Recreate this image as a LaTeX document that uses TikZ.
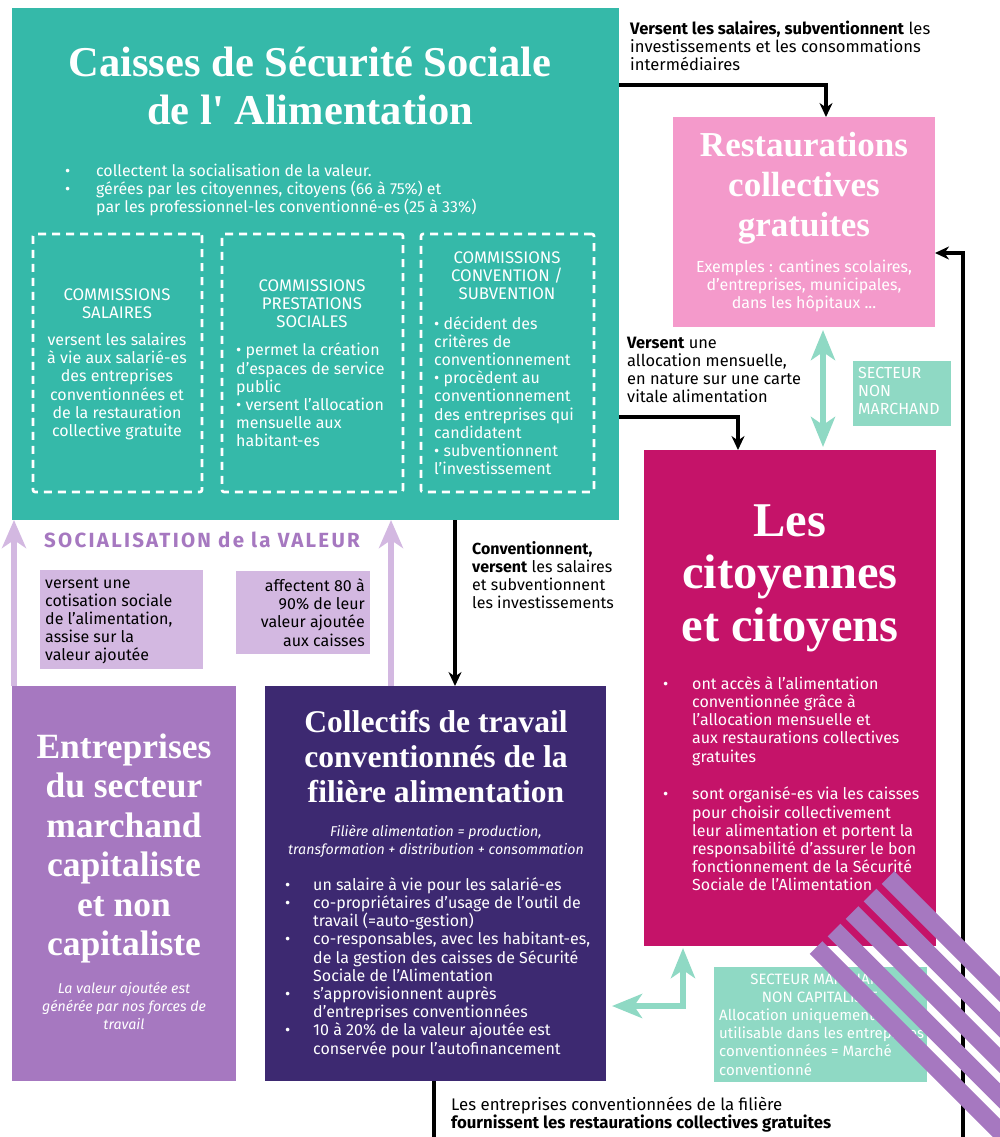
\documentclass[tikz,border=0pt]{standalone}
\usepackage{fontspec}
\setmainfont{Fira Sans}
\newfontfamily\titlefont{Liberation Serif}
\usetikzlibrary{arrows.meta,calc}
\definecolor{cteal}{HTML}{35B9A9}
\definecolor{cpink}{HTML}{F49ACB}
\definecolor{cmag}{HTML}{C51369}
\definecolor{cmint}{HTML}{8FD9C4}
\definecolor{cpurple}{HTML}{A678C0}
\definecolor{clpurple}{HTML}{D3B8E1}
\definecolor{cdark}{HTML}{3D2971}
\newcommand\bul[1]{\makebox[#1pt][l]{•}}
\newcommand\ind[1]{\hspace*{#1pt}}
\begin{document}
\begin{tikzpicture}[x=1pt,y=-1pt,
  box/.style={anchor=north west, inner sep=0, outer sep=0},
  dbox/.style={anchor=north west, inner sep=0, outer sep=0, draw=white, line width=2.6pt, dash pattern=on 8pt off 6pt, rounded corners=2pt},
  ttl/.style={text=white, align=center, inner sep=0},
  body/.style={font=\fontsize{16}{18.2}\selectfont, inner sep=0},
  wbody/.style={body, text=white},
  ital/.style={text=white, inner sep=0, align=center, font=\itshape\fontsize{14.2}{18}\selectfont},
  blk/.style={line width=3.2pt, draw=black, -{Stealth[length=14pt,width=13pt]}},
  mintar/.style={line width=6pt, draw=cmint, {Stealth[length=30pt,width=24pt,inset=8pt]}-{Stealth[length=30pt,width=24pt,inset=8pt]}},
  lpar/.style={line width=6pt, draw=clpurple, -{Stealth[length=28pt,width=24pt,inset=8pt]}},
  stripe/.style={draw=cpurple, line width=18pt}
]
\useasboundingbox (0,0) rectangle (1000,1137);
\clip (0,0) rectangle (1000,1137);

% ---------- boxes ----------
\node[box, fill=cteal, minimum width=607pt, minimum height=512pt] (caisses) at (12,8) {};
\node[box, fill=cpink, minimum width=262pt, minimum height=210pt] (resto) at (673,117) {};
\node[box, fill=cmag, minimum width=292pt, minimum height=496pt] (citoyens) at (644,450) {};
\node[box, fill=cpurple, minimum width=224pt, minimum height=395pt] (entr) at (12,686) {};
\node[box, fill=cdark, minimum width=341pt, minimum height=395pt] (coll) at (265,686) {};
\node[box, fill=cmint, minimum width=98pt, minimum height=65pt] (snm) at (853,361) {};
\node[box, fill=cmint, minimum width=213pt, minimum height=115pt] (smnc) at (714,967) {};
\node[box, fill=clpurple, minimum width=163pt, minimum height=99pt] (cotis) at (40,570) {};
\node[box, fill=clpurple, minimum width=134pt, minimum height=83pt] (affect) at (236,571) {};

\node[dbox, minimum width=169pt, minimum height=258pt] (csal) at (33,234) {};
\node[dbox, minimum width=181pt, minimum height=258pt] (cprest) at (222,234) {};
\node[dbox, minimum width=173pt, minimum height=258pt] (cconv) at (421,234) {};

% ---------- texts: caisses ----------
\node[ttl, font=\titlefont\bfseries\fontsize{42.5}{48}\selectfont] (caissesT) at (310,86) {Caisses de Sécurité Sociale\\de l' Alimentation};
\node[wbody, anchor=west, align=left, font=\fontsize{15.9}{18.2}\selectfont] (caissesL) at (65,190) {\bul{31}collectent la socialisation de la valeur.\\\bul{31}gérées par les citoyennes, citoyens (66 à 75\%) et\\\ind{31}par les professionnel-les conventionné-es (25 à 33\%)};

\node[wbody, align=center, font=\fontsize{16.8}{18.2}\selectfont] (csalH) at (117,304) {COMMISSIONS\\SALAIRES};
\node[wbody, align=center] (csalB) at (117,386.5) {versent les salaires\\à vie aux salarié-es\\des entreprises\\conventionnées et\\de la restauration\\collective gratuite};

\node[wbody, align=center, font=\fontsize{16.8}{18.2}\selectfont] (cprestH) at (312,304) {COMMISSIONS\\PRESTATIONS\\SOCIALES};
\node[wbody, anchor=west, align=left] (cprestB) at (236,395) {• permet la création\\d’espaces de service\\public\\• versent l’allocation\\mensuelle aux\\habitant-es};

\node[wbody, align=center, font=\fontsize{16.8}{18.2}\selectfont] (cconvH) at (507,276) {COMMISSIONS\\CONVENTION /\\SUBVENTION};
\node[wbody, anchor=west, align=left] (cconvB) at (434,395.5) {• décident des\\critères de\\conventionnement\\• procèdent au\\conventionnement\\des entreprises qui\\candidatent\\• subventionnent\\l’investissement};

% ---------- texts: right column ----------
\node[body, anchor=west, align=left, font=\fontsize{16.6}{18.2}\selectfont] (lab1) at (630,46) {\textbf{Versent les salaires, subventionnent} les\\investissements et les consommations\\intermédiaires};
\node[ttl, font=\titlefont\bfseries\fontsize{35}{40}\selectfont] (restoT) at (804,188) {Restaurations\\collectives\\gratuites};
\node[wbody, align=center] (restoB) at (804,286) {Exemples : cantines scolaires,\\d’entreprises, municipales,\\dans les hôpitaux ...};
\node[wbody, anchor=west, align=left] (snmT) at (858,391) {SECTEUR\\NON\\MARCHAND};
\node[body, anchor=west, align=left, font=\fontsize{16.4}{18.2}\selectfont] (lab2) at (627,370) {\textbf{Versent} une\\allocation mensuelle,\\en nature sur une carte\\vitale alimentation};

\node[ttl, font=\titlefont\bfseries\fontsize{48.5}{52.5}\selectfont] (citT) at (790,578) {Les\\citoyennes\\et citoyens};
\node[wbody, anchor=west, align=left] (citB1) at (663,721) {\bul{29}ont accès à l’alimentation\\\ind{29}conventionnée grâce à\\\ind{29}l’allocation mensuelle et\\\ind{29}aux restaurations collectives\\\ind{29}gratuites};
\node[wbody, anchor=west, align=left] (citB2) at (663,839) {\bul{29}sont organisé-es via les caisses\\\ind{29}pour choisir collectivement\\\ind{29}leur alimentation et portent la\\\ind{29}responsabilité d’assurer le bon\\\ind{29}fonctionnement de la Sécurité\\\ind{29}Sociale de l’Alimentation};

\node[wbody, align=center, font=\fontsize{15}{18.2}\selectfont] (smncH) at (820,988) {SECTEUR MARCHAND\\NON CAPITALISTE};
\node[wbody, anchor=west, align=left, font=\fontsize{15}{18.2}\selectfont] (smncB) at (719,1042) {Allocation uniquement\\utilisable dans les entreprises\\conventionnées = Marché\\conventionné};

% ---------- texts: left / middle ----------
\node[inner sep=0, anchor=west, text=cpurple, font=\bfseries\fontsize{20.5}{22}\selectfont] (socT) at (44,540) {\addfontfeature{LetterSpace=11}SOCIALISATION de la VALEUR};
\node[body, anchor=west, align=left] (cotisT) at (45,621) {versent une\\cotisation sociale\\de l’alimentation,\\assise sur la\\valeur ajoutée};
\node[body, anchor=east, align=right] (affectT) at (365,612.5) {affectent 80 à\\90\% de leur\\valeur ajoutée\\aux caisses};
\node[body, anchor=west, align=left] (lab3) at (472,575) {\textbf{Conventionnent,}\\\textbf{versent} les salaires\\et subventionnent\\les investissements};

\node[ttl, font=\titlefont\bfseries\fontsize{35.5}{39.4}\selectfont] (entrT) at (124,848.5) {Entreprises\\du secteur\\marchand\\capitaliste\\et non\\capitaliste};
\node[ital] (entrB) at (124,1006) {La valeur ajoutée est\\générée par nos forces de\\travail};

\node[ttl, font=\titlefont\bfseries\fontsize{31.6}{35}\selectfont] (collT) at (436,757) {Collectifs de travail\\conventionnés de la\\filière alimentation};
\node[ital] (collI) at (436,841) {Filière alimentation = production,\\transformation + distribution + consommation};
\node[wbody, anchor=west, align=left] (collB) at (285,967.5) {\bul{28}un salaire à vie pour les salarié-es\\\bul{28}co-propriétaires d’usage de l’outil de\\\ind{28}travail (=auto-gestion)\\\bul{28}co-responsables, avec les habitant-es,\\\ind{28}de la gestion des caisses de Sécurité\\\ind{28}Sociale de l’Alimentation\\\bul{28}s’approvisionnent auprès\\\ind{28}d’entreprises conventionnées\\\bul{28}10 à 20\% de la valeur ajoutée est\\\ind{28}conservée pour l’autofinancement};

\node[body, anchor=west, align=left, font=\fontsize{16.8}{18.2}\selectfont] (lab4) at (451,1114.5) {Les entreprises conventionnées de la filière\\\textbf{fournissent les restaurations collectives gratuites}};

% ---------- connectors ----------
\draw[blk] (caisses.east |- 0,85) -| (826,0 |- resto.north);
\draw[blk] (caisses.east |- 0,417) -| (738,0 |- citoyens.north);
\draw[blk] (455,0 |- caisses.south) -- (455,0 |- coll.north);
\draw[blk] (434,0 |- coll.south) -- (434,1170) -- (963,1170) -- (963,253) -- (resto.east |- 0,253);

\draw[mintar, shorten <=3pt, shorten >=3pt] (823,0 |- resto.south) -- (823,0 |- citoyens.north);
\draw[mintar, shorten <=2pt, shorten >=6pt] (683,0 |- citoyens.south) |- (coll.east |- 0,1006);

\draw[lpar] (14,0 |- entr.north) -- (14,0 |- caisses.south);
\draw[lpar] (391,0 |- coll.north) -- (391,0 |- caisses.south);

% ---------- stripes ----------
\foreach \k in {0,...,4}
  \draw[stripe] ({888-18*\k},{877.5+17.5*\k}) -- ++(400,400);
\end{tikzpicture}
\end{document}
